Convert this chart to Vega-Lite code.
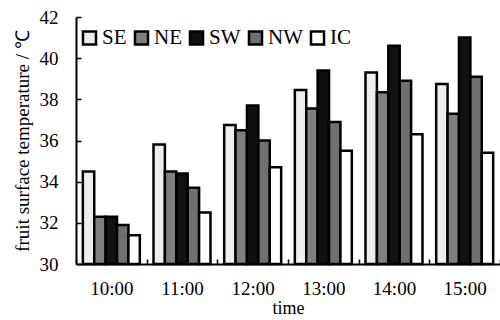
{
  "$schema": "https://vega.github.io/schema/vega-lite/v6.json",
  "width": 424,
  "height": 247,
  "autosize": "none",
  "padding": {"left": 76, "top": 17, "right": 0, "bottom": 56},
  "background": "white",
  "config": {"font": "Liberation Serif", "view": {"stroke": null}},
  "data": {
    "values": [
      {"time": "10:00", "dir": "SE", "temp": 34.5},
      {"time": "10:00", "dir": "NE", "temp": 32.3},
      {"time": "10:00", "dir": "SW", "temp": 32.3},
      {"time": "10:00", "dir": "NW", "temp": 31.9},
      {"time": "10:00", "dir": "IC", "temp": 31.4},
      {"time": "11:00", "dir": "SE", "temp": 35.8},
      {"time": "11:00", "dir": "NE", "temp": 34.5},
      {"time": "11:00", "dir": "SW", "temp": 34.4},
      {"time": "11:00", "dir": "NW", "temp": 33.7},
      {"time": "11:00", "dir": "IC", "temp": 32.5},
      {"time": "12:00", "dir": "SE", "temp": 36.75},
      {"time": "12:00", "dir": "NE", "temp": 36.5},
      {"time": "12:00", "dir": "SW", "temp": 37.7},
      {"time": "12:00", "dir": "NW", "temp": 36.0},
      {"time": "12:00", "dir": "IC", "temp": 34.7},
      {"time": "13:00", "dir": "SE", "temp": 38.45},
      {"time": "13:00", "dir": "NE", "temp": 37.55},
      {"time": "13:00", "dir": "SW", "temp": 39.4},
      {"time": "13:00", "dir": "NW", "temp": 36.9},
      {"time": "13:00", "dir": "IC", "temp": 35.5},
      {"time": "14:00", "dir": "SE", "temp": 39.3},
      {"time": "14:00", "dir": "NE", "temp": 38.35},
      {"time": "14:00", "dir": "SW", "temp": 40.6},
      {"time": "14:00", "dir": "NW", "temp": 38.9},
      {"time": "14:00", "dir": "IC", "temp": 36.3},
      {"time": "15:00", "dir": "SE", "temp": 38.75},
      {"time": "15:00", "dir": "NE", "temp": 37.3},
      {"time": "15:00", "dir": "SW", "temp": 41.0},
      {"time": "15:00", "dir": "NW", "temp": 39.1},
      {"time": "15:00", "dir": "IC", "temp": 35.4}
    ]
  },
  "mark": {"type": "bar", "stroke": "black", "strokeWidth": 2.5, "strokeJoin": "miter"},
  "encoding": {
    "x": {
      "field": "time",
      "type": "nominal",
      "scale": {"paddingInner": 0, "paddingOuter": 0},
      "axis": {
        "title": "time",
        "labelAngle": 0,
        "tickBand": "extent",
        "tickSize": -5,
        "tickColor": "black",
        "tickWidth": 1.5,
        "domainColor": "black",
        "domainWidth": 2,
        "labelFontSize": 19,
        "labelColor": "black",
        "labelPadding": 20,
        "titleFontSize": 18,
        "titleFontWeight": "normal",
        "titleColor": "black",
        "titlePadding": 1
      }
    },
    "xOffset": {
      "field": "dir",
      "type": "nominal",
      "sort": ["SE", "NE", "SW", "NW", "IC"],
      "scale": {"paddingInner": 0, "paddingOuter": 0.6}
    },
    "y": {
      "field": "temp",
      "type": "quantitative",
      "scale": {"domain": [30, 42], "nice": false, "zero": false},
      "axis": {
        "title": "fruit surface temperature / ℃",
        "values": [30, 32, 34, 36, 38, 40, 42],
        "grid": false,
        "tickSize": -5,
        "tickColor": "black",
        "tickWidth": 1.5,
        "domainColor": "black",
        "domainWidth": 2,
        "labelFontSize": 19,
        "labelColor": "black",
        "labelPadding": 23,
        "titleFontSize": 19,
        "titleFontWeight": "normal",
        "titleColor": "black",
        "titlePadding": 7
      }
    },
    "y2": {"datum": 30},
    "fill": {
      "field": "dir",
      "type": "nominal",
      "scale": {
        "domain": ["SE", "NE", "SW", "NW", "IC"],
        "range": ["#eeeeee", "#7f7f7f", "#111111", "#707070", "#ffffff"]
      },
      "legend": {
        "title": null,
        "orient": "none",
        "legendX": 3,
        "legendY": 10,
        "padding": 0,
        "direction": "horizontal",
        "columns": 5,
        "columnPadding": 2,
        "symbolType": "square",
        "symbolSize": 170,
        "symbolStrokeColor": "black",
        "symbolStrokeWidth": 2.5,
        "symbolOpacity": 1,
        "labelFontSize": 21,
        "labelColor": "black",
        "labelOffset": 2
      }
    }
  }
}
